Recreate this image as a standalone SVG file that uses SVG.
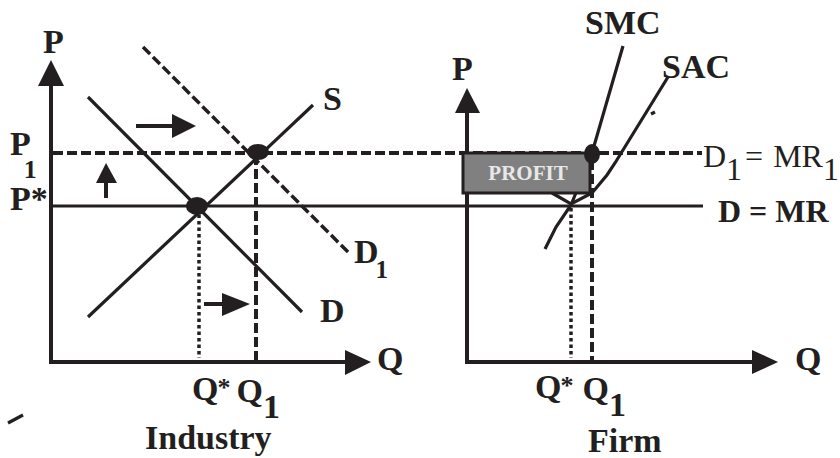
<svg xmlns="http://www.w3.org/2000/svg" width="840" height="458" viewBox="0 0 840 458">
<style>
.ln{stroke:#231f20;fill:none;stroke-width:3.2}
.ax{stroke:#231f20;fill:none;stroke-width:4}
.dash{stroke:#231f20;fill:none;stroke-width:4;stroke-dasharray:10 4}
.dot{stroke:#231f20;fill:none;stroke-width:3.5;stroke-dasharray:3.5 3}
.hd{fill:#231f20}
.b{font-family:"Liberation Serif","Times New Roman",serif;font-weight:bold;font-size:34px;fill:#231f20}
.r{font-family:"Liberation Serif","Times New Roman",serif;font-size:32px;fill:#231f20}
</style>
<rect width="840" height="458" fill="#fff"/>
<g id="connectors">
<line class="dash" x1="53" y1="153" x2="702" y2="153"/>
<line class="ln" x1="51" y1="206" x2="703" y2="206"/>
<line class="ln" x1="88" y1="97" x2="302" y2="312"/>
<line class="ln" x1="88" y1="317" x2="313" y2="105"/>
<line class="dash" x1="143" y1="47" x2="350" y2="254" style="stroke-width:3.5"/>
<line class="dot" x1="199" y1="208" x2="199" y2="358"/>
<line class="dash" x1="256" y1="155" x2="256" y2="362"/>
<line class="ln" x1="136" y1="126" x2="176" y2="126" style="stroke-width:4"/>
<polygon class="hd" points="196,126 172,114 172,138"/>
<line class="ln" x1="106" y1="198" x2="106" y2="180" style="stroke-width:4"/>
<polygon class="hd" points="106,163 96,183 117,183"/>
<line class="ln" x1="204" y1="304" x2="226" y2="304" style="stroke-width:4"/>
<polygon class="hd" points="250,304 222,293 222,316"/>
<path class="ln" d="M545,249 L556,227 L571,205 L592,153 L623,46"/>
<path class="ln" d="M552,193 L571,204 L592,193 L607,175 L615,163 L668,77"/>
<line class="dot" x1="571" y1="208" x2="571" y2="358"/>
<line class="dash" x1="592" y1="160" x2="592" y2="362"/>
<line class="ln" x1="651" y1="114" x2="655" y2="112"/>
<line class="ln" x1="8" y1="423" x2="23" y2="415"/>
</g>
<g id="industry-axes">
<line class="ax" x1="51" y1="364" x2="51" y2="82"/>
<polygon class="hd" points="51,60 38,86 64,86"/>
<line class="ax" x1="49" y1="362" x2="350" y2="362"/>
<polygon class="hd" points="371,362 345,350 345,375"/>
</g>
<g id="firm-axes">
<line class="ax" x1="467" y1="364" x2="467" y2="108"/>
<polygon class="hd" points="467,88 455,113 480,113"/>
<line class="ax" x1="465" y1="362" x2="757" y2="362"/>
<polygon class="hd" points="778,362 752,350 752,374"/>
</g>
<g id="profit-box">
<rect x="463" y="153" width="127" height="40" fill="#808080" stroke="#231f20" stroke-width="3"/>
<text x="528" y="180" text-anchor="middle" style="font-family:'Liberation Serif','Times New Roman',serif;font-weight:bold;font-size:21px;fill:#e8e8e8">PROFIT</text>
</g>
<g id="equilibria">
<ellipse cx="197" cy="206" rx="11" ry="9" fill="#231f20"/>
<ellipse cx="258" cy="152" rx="11" ry="8" fill="#231f20"/>
<ellipse cx="592" cy="154" rx="8" ry="10" fill="#231f20"/>
</g>
<g id="industry-labels">
<text class="b" x="43" y="53">P</text>
<text class="b" x="10" y="155">P<tspan dx="-7" dy="23" style="font-size:26px">1</tspan></text>
<text class="b" x="10" y="210">P*</text>
<text class="b" x="323" y="110">S</text>
<text class="b" x="354" y="263">D<tspan dx="-3" dy="15" style="font-size:25px">1</tspan></text>
<text class="b" x="320" y="322">D</text>
<text class="b" x="377" y="370">Q</text>
<text class="b" x="192" y="400">Q<tspan dx="-1" dy="-4" style="font-size:26px">*</tspan><tspan dx="6" dy="6">Q</tspan><tspan dy="16">1</tspan></text>
<text class="b" x="145" y="449">Industry</text>
</g>
<g id="firm-labels">
<text class="b" x="452" y="80">P</text>
<text class="b" x="585" y="34">SMC</text>
<text class="b" x="662" y="78">SAC</text>
<text class="r" x="703" y="167">D<tspan dy="13">1</tspan><tspan dx="3" dy="-13">=</tspan><tspan dx="10">MR</tspan><tspan dy="13">1</tspan></text>
<text class="b" x="718" y="222" style="font-size:32px">D = MR</text>
<text class="b" x="795" y="370">Q</text>
<text class="b" x="535" y="398">Q<tspan dx="-1" dy="-4" style="font-size:26px">*</tspan><tspan dx="9" dy="6">Q</tspan><tspan dy="16">1</tspan></text>
<text class="b" x="588" y="452">Firm</text>
</g>
</svg>
